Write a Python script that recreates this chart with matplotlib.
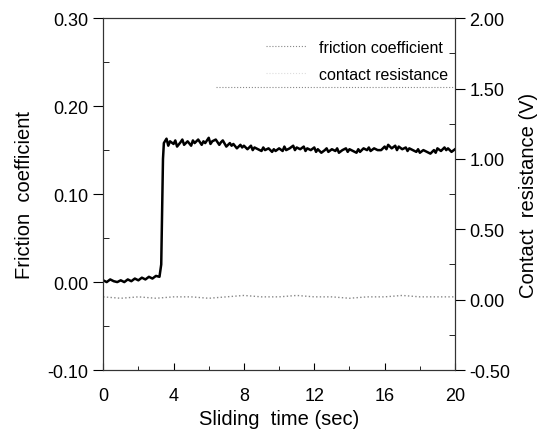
#!/usr/bin/env python3
"""Friction coefficient and contact resistance vs sliding time."""

import matplotlib.pyplot as plt
from matplotlib.ticker import MultipleLocator, FormatStrFormatter

plt.rcParams["font.family"] = ["Liberation Sans", "DejaVu Sans"]

# friction coefficient (left axis)
fric_time = [
    0.0, 0.2, 0.4, 0.6, 0.8, 1.0, 1.2, 1.4, 1.6, 1.8, 2.0, 2.2, 2.4, 2.6, 2.8, 3.0, 3.2,
    3.3, 3.35, 3.4, 3.45,
    3.6, 3.7, 3.8, 4.0, 4.1, 4.2, 4.4, 4.5, 4.6, 4.8, 5.0, 5.1, 5.2, 5.4, 5.6, 5.7, 5.8,
    6.0, 6.1, 6.2, 6.4, 6.6, 6.7, 6.8,
    7.0, 7.2, 7.3, 7.4, 7.6, 7.8, 7.9, 8.0, 8.2, 8.4, 8.5, 8.6, 8.8, 9.0, 9.1, 9.2, 9.4,
    9.6, 9.7, 9.8, 10.0,
    10.2, 10.3, 10.4, 10.6, 10.8, 10.9, 11.0, 11.2, 11.4, 11.5, 11.6, 11.8, 12.0, 12.1,
    12.2, 12.4, 12.6, 12.7, 12.8,
    13.0, 13.2, 13.3, 13.4, 13.6, 13.8, 13.9, 14.0, 14.2, 14.4, 14.5, 14.6, 14.8, 15.0,
    15.1, 15.2, 15.4, 15.6,
    15.8, 16.0, 16.1, 16.2, 16.4, 16.6, 16.7, 16.8, 17.0, 17.2, 17.3, 17.4, 17.6, 17.8,
    17.9, 18.0, 18.2, 18.4,
    18.6, 18.8, 18.9, 19.0, 19.2, 19.4, 19.5, 19.6, 19.8, 20.0,
]
fric_value = [
    0.002, 0.000, 0.003, 0.001, 0.000, 0.002, 0.000, 0.003, 0.001, 0.004, 0.002, 0.005,
    0.003, 0.006, 0.004, 0.007, 0.006,
    0.020, 0.080, 0.140, 0.158,
    0.163, 0.155, 0.160, 0.157, 0.161, 0.154, 0.159, 0.162, 0.156, 0.160, 0.155, 0.161,
    0.158, 0.162, 0.156, 0.160, 0.158,
    0.164, 0.157, 0.160, 0.162, 0.156, 0.159, 0.161,
    0.154, 0.158, 0.155, 0.157, 0.152, 0.156, 0.153, 0.155, 0.151, 0.155, 0.150, 0.153,
    0.151, 0.149, 0.153, 0.150, 0.152,
    0.148, 0.151, 0.149, 0.152,
    0.149, 0.154, 0.150, 0.152, 0.155, 0.150, 0.153, 0.151, 0.154, 0.149, 0.152, 0.150,
    0.153, 0.148, 0.151, 0.147, 0.150, 0.152, 0.148,
    0.151, 0.149, 0.152, 0.147, 0.150, 0.152, 0.148, 0.151, 0.149, 0.147, 0.151, 0.148,
    0.152, 0.150, 0.153, 0.149, 0.152, 0.150,
    0.150, 0.154, 0.151, 0.156, 0.152, 0.155, 0.150, 0.154, 0.151, 0.153, 0.149, 0.152,
    0.150, 0.148, 0.151, 0.147, 0.150, 0.148,
    0.146, 0.150, 0.147, 0.152, 0.149, 0.153, 0.150, 0.152, 0.148, 0.151,
]

# contact resistance (right axis, V)
res_time = [0, 1, 2, 3, 4, 5, 6, 7, 8, 9, 10, 11, 12, 13, 14, 15, 16, 17, 18, 19, 20]
res_value = [0.02, 0.01, 0.02, 0.01, 0.02, 0.02, 0.01, 0.02, 0.03, 0.02, 0.02, 0.03,
             0.02, 0.02, 0.01, 0.02, 0.02, 0.03, 0.02, 0.02, 0.02]

fig = plt.figure(figsize=(5.43, 4.35), dpi=100)
ax = fig.add_axes([0.19, 0.147, 0.648, 0.809])
ax2 = ax.twinx()

ax.plot(fric_time, fric_value, color="black", lw=1.8)
ax2.plot(res_time, res_value, color="#888888", lw=1.0, ls=":")

ax.set_xlim(0, 20)
ax.set_ylim(-0.10, 0.30)
ax2.set_ylim(-0.50, 2.00)

ax.xaxis.set_major_locator(MultipleLocator(4))
ax.xaxis.set_minor_locator(MultipleLocator(2))
ax.yaxis.set_major_locator(MultipleLocator(0.10))
ax.yaxis.set_minor_locator(MultipleLocator(0.05))
ax.yaxis.set_major_formatter(FormatStrFormatter("%.2f"))
ax2.yaxis.set_major_locator(MultipleLocator(0.50))
ax2.yaxis.set_minor_locator(MultipleLocator(0.25))
ax2.yaxis.set_major_formatter(FormatStrFormatter("%.2f"))

ax.tick_params(axis="x", which="both", direction="in", labelsize=13, pad=12)
ax.tick_params(axis="x", which="major", length=5)
ax.tick_params(axis="x", which="minor", length=3)
ax.tick_params(axis="y", which="major", direction="out", length=7, labelsize=13)
ax.tick_params(axis="y", which="minor", direction="in", length=4)
ax2.tick_params(axis="y", which="major", direction="out", length=7, labelsize=13)
ax2.tick_params(axis="y", which="minor", direction="in", length=4)

for a in (ax, ax2):
    for s in a.spines.values():
        s.set_linewidth(0.8)
        s.set_color("#333333")

ax.set_xlabel("Sliding  time (sec)", fontsize=14.5, labelpad=4)
ax.set_ylabel("Friction  coefficient", fontsize=14.5, labelpad=10)
ax2.set_ylabel("Contact  resistance (V)", fontsize=14.5, labelpad=6)

# legend (faint dotted samples, no frame)
h1 = plt.Line2D([], [], color="#888888", lw=0.8, ls=":")
h2 = plt.Line2D([], [], color="#dddddd", lw=0.8, ls=":")
ax.legend([h1, h2], ["friction coefficient", "contact resistance"],
          loc="upper right", bbox_to_anchor=(1.02, 0.98), frameon=False,
          fontsize=11.5, handlelength=2.5, labelspacing=0.75)
# faint dotted line under the legend
ax.plot([0.32, 1.0], [0.805, 0.805], transform=ax.transAxes,
        color="#888888", lw=0.8, ls=":")

fig.savefig("out.png", dpi=100)
